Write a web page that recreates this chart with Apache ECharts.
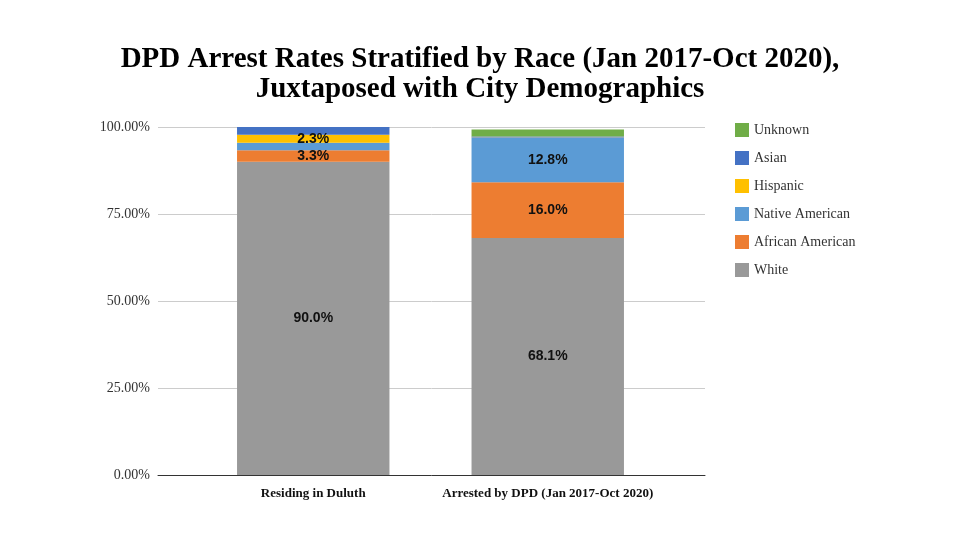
<!DOCTYPE html>
<html><head><meta charset="utf-8">
<script src="https://cdn.jsdelivr.net/npm/echarts@6/dist/echarts.min.js"></script>
<style>html,body{margin:0;background:#fff}#c{width:960px;height:540px}</style>
</head><body><div id="c"></div>
<script>
const categories = ['Residing in Duluth', 'Arrested by DPD (Jan 2017-Oct 2020)'];
const white = [90.0, 68.1];
const africanAmerican = [3.3, 16.0];
const nativeAmerican = [2.2, 12.8];
const hispanic = [2.3, 0.1];
const asian = [2.2, 0.3];
const unknown = [0, 2.0];

const chart = echarts.init(document.getElementById('c'));
const serif = 'Liberation Serif';

function mk(name, data, color, showLabel) {
    return {
        name, type: 'bar', stack: 'all', data, barWidth: '65%',
        xAxisIndex: 1, yAxisIndex: 1,
        itemStyle: { color },
        label: {
            show: showLabel, position: 'inside', color: '#111',
            fontFamily: 'Liberation Sans', fontWeight: 'bold', fontSize: 14,
            formatter: p => p.value >= 2.3 ? p.value.toFixed(1) + '%' : ''
        }
    };
}

chart.setOption({
    title: {
        text: 'DPD Arrest Rates Stratified by Race (Jan 2017-Oct 2020),\nJuxtaposed with City Demographics',
        left: 'center', top: 40,
        textStyle: { fontFamily: serif, fontWeight: 'bold', fontSize: 29, lineHeight: 30, color: '#000' }
    },
    // full-width grid for gridlines and axes, inner grid for the bars
    grid: [
        { left: 158, right: 255, top: 127, bottom: 65 },
        { left: 196, right: 295, top: 127, bottom: 65 }
    ],
    legend: {
        orient: 'vertical', left: 730, top: 118, itemGap: 14,
        icon: 'rect', itemWidth: 14, itemHeight: 14,
        data: ['Unknown', 'Asian', 'Hispanic', 'Native American', 'African American', 'White'],
        textStyle: { fontFamily: serif, fontSize: 14, color: '#333' }
    },
    xAxis: [{
        gridIndex: 0, type: 'category', data: [''],
        axisTick: { show: false }, axisLabel: { show: false },
        axisLine: { lineStyle: { color: '#333' } }
    }, {
        gridIndex: 1, type: 'category', data: categories,
        axisTick: { show: false }, axisLine: { show: false },
        axisLabel: { interval: 0, fontFamily: serif, fontWeight: 'bold', fontSize: 13, color: '#111', margin: 12 }
    }],
    yAxis: [{
        gridIndex: 0, type: 'value', min: 0, max: 100, interval: 25,
        axisLabel: { formatter: v => v.toFixed(2) + '%', fontFamily: serif, fontSize: 14, color: '#333' },
        splitLine: { lineStyle: { color: '#ccc' } }
    }, {
        gridIndex: 1, type: 'value', min: 0, max: 100, interval: 25,
        axisLabel: { show: false }, splitLine: { show: false }
    }],
    series: [
        mk('White', white, '#999999', true),
        mk('African American', africanAmerican, '#ed7d31', true),
        mk('Native American', nativeAmerican, '#5b9bd5', true),
        mk('Hispanic', hispanic, '#ffc000', true),
        mk('Asian', asian, '#4472c4', false),
        mk('Unknown', unknown, '#70ad47', false)
    ]
});
</script></body></html>
